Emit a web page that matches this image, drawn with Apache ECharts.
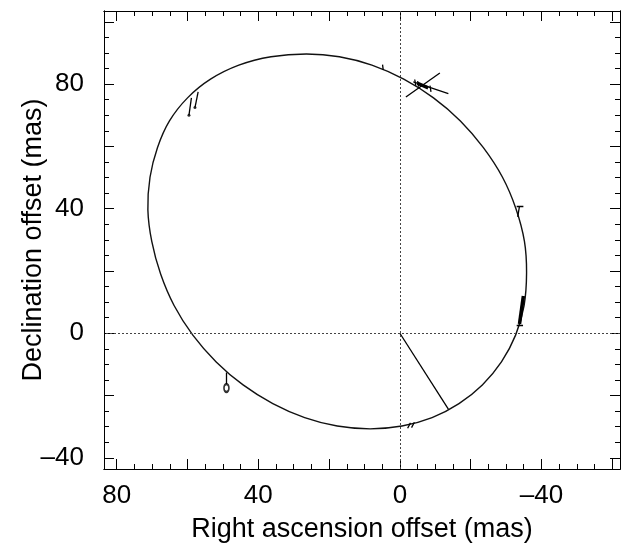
<!DOCTYPE html>
<html>
<head>
<meta charset="utf-8">
<script src="https://cdn.jsdelivr.net/npm/echarts@6/dist/echarts.min.js"></script>
<style>
  html, body { margin: 0; padding: 0; background: #fff; }
  #chart { width: 621px; height: 544px; }
</style>
</head>
<body>
<div id="chart"></div>
<script>
// orbit (RA offset, Dec offset) in mas (closed loop)
const orbit = [
  [26.4, 89.7], [36.4, 88.8], [45.5, 86.1], [53.5, 81.6], [60.0, 75.6],
  [65.1, 68.2], [68.5, 59.6], [70.6, 50.1], [71.2, 39.6], [70.1, 29.5],
  [67.6, 19.0], [63.8, 8.9], [58.5, -0.6], [51.9, -9.2], [44.3, -16.6],
  [35.9, -22.6], [26.9, -27.1], [17.7, -29.8], [8.4, -30.7], [-0.6, -29.8],
  [-9.1, -27.1], [-16.7, -22.6], [-23.3, -16.6], [-28.7, -9.2], [-32.7, -0.6],
  [-35.1, 8.9], [-35.8, 19.4], [-35.2, 29.5], [-32.8, 40.0], [-29.0, 50.1],
  [-23.6, 59.6], [-17.1, 68.2], [-9.5, 75.6], [-1.1, 81.6], [7.9, 86.1],
  [17.1, 88.8]
];

// primary -> periastron
const periastron = [[0, 0], [-13.7, -24.4]];

// O-C residual segments (thin)
const residuals = [
  [[58.9, 75.6], [59.6, 70.0]],
  [[57.0, 77.5], [57.9, 72.5]],
  [[-1.7, 75.9], [-11.3, 83.6]],
  [[-3.8, 80.7], [-13.7, 77.0]],
  [[-4.2, 81.5], [-4.5, 79.5]],
  [[-5.0, 81.0], [-5.3, 79.2]],
  [[-8.5, 79.5], [-8.8, 77.5]],
  [[4.7, 84.6], [4.9, 86.3]],
  [[-33.0, 40.8], [-34.9, 40.8]],
  [[-33.8, 40.8], [-33.3, 37.4]],
  [[-33.0, 2.6], [-34.8, 2.6]],
  [[49.0, -12.6], [49.0, -16.3]],
  [[-2.2, -30.5], [-3.0, -28.8]],
  [[-3.3, -30.3], [-4.1, -28.6]]
];

// clumps of overlapping residuals (thick)
const clumps = [
  [[-5.0, 80.3], [-8.0, 78.8]],
  [[-34.9, 12.0], [-33.8, 3.0]]
];

const smallEllipse = [[49.0, -17.6]];
const endDots = [[59.6, 70.0], [57.9, 72.5]];

const xRange = [-62.2, 83.6];
const yRange = [-43.6, 103.5];
const xMajor = [-60, -40, -20, 0, 20, 40, 60, 80];
const xLabels = [-40, 0, 40, 80];
const yMajor = [-40, -20, 0, 20, 40, 60, 80, 100];
const yLabels = [-40, 0, 40, 80];
const xMinor = [];
for (let v = -60; v <= 80; v += 5) xMinor.push(v);
const yMinor = [];
for (let v = -40; v <= 100; v += 5) yMinor.push(v);

const fmt = v => (v < 0 ? '\u2013' + (-v) : String(v));
const font = 'Liberation Sans, Arial, sans-serif';

function axis(dir, pos, ticks, len, labels, extra) {
  const range = dir === 'x' ? xRange : yRange;
  return Object.assign({
    type: 'value',
    position: pos,
    min: range[0],
    max: range[1],
    inverse: dir === 'x',
    nameMoveOverlap: false,
    axisLine: { show: true, onZero: false, lineStyle: { color: '#000', width: 1 } },
    axisTick: { show: true, inside: true, length: len, customValues: ticks, lineStyle: { color: '#000', width: 1 } },
    axisLabel: labels
      ? { show: true, customValues: labels, formatter: fmt, color: '#000', fontSize: 26, fontFamily: font, margin: dir === 'x' ? 14 : 20 }
      : { show: false },
    splitLine: { show: false }
  }, extra || {});
}

const chart = echarts.init(document.getElementById('chart'));

chart.setOption({
  animation: false,
  backgroundColor: '#fff',
  grid: { left: 104, right: 1, top: 11, bottom: 75, outerBoundsMode: 'none', containLabel: false },
  xAxis: [
    axis('x', 'bottom', xMajor, 10, xLabels, {
      name: 'Right ascension offset (mas)', nameLocation: 'middle', nameGap: 47,
      nameTextStyle: { color: '#000', fontSize: 27, fontFamily: font }
    }),
    axis('x', 'bottom', xMinor, 5, null),
    axis('x', 'top', xMajor, 10, null),
    axis('x', 'top', xMinor, 5, null)
  ],
  yAxis: [
    axis('y', 'left', yMajor, 10, yLabels, {
      name: 'Declination offset (mas)', nameLocation: 'middle', nameGap: 57,
      nameTextStyle: { color: '#000', fontSize: 27, fontFamily: font }
    }),
    axis('y', 'left', yMinor, 5, null),
    axis('y', 'right', yMajor, 10, null),
    axis('y', 'right', yMinor, 5, null)
  ],
  series: [
    {
      // the orbit as one closed smooth curve through the read points
      type: 'custom',
      coordinateSystem: 'cartesian2d',
      data: [[0, 0]],
      renderItem: (params, api) => ({
        type: 'polygon',
        shape: { points: orbit.map(p => api.coord(p)), smooth: 0.35 },
        style: { fill: 'none', stroke: '#111', lineWidth: 1.4 }
      }),
      silent: true,
      z: 3
    },
    {
      type: 'lines',
      coordinateSystem: 'cartesian2d',
      lineStyle: { color: '#000', width: 1.3, opacity: 1 },
      data: [{ coords: periastron }].concat(residuals.map(s => ({ coords: s }))),
      z: 4
    },
    {
      type: 'lines',
      coordinateSystem: 'cartesian2d',
      lineStyle: { color: '#000', width: 3.5, opacity: 1 },
      data: clumps.map(s => ({ coords: s })),
      z: 4
    },
    {
      type: 'scatter',
      data: smallEllipse,
      symbol: 'emptyCircle',
      symbolSize: [5, 8],
      itemStyle: { color: '#000', borderColor: '#000', borderWidth: 1.3 },
      markLine: {
        silent: true,
        symbol: 'none',
        label: { show: false },
        lineStyle: { color: '#444', type: [2, 2], width: 1 },
        data: [{ xAxis: 0 }, { yAxis: 0 }]
      },
      z: 5
    },
    {
      type: 'scatter',
      data: endDots,
      symbol: 'circle',
      symbolSize: 3,
      itemStyle: { color: '#000' },
      z: 5
    }
  ]
});
</script>
</body>
</html>
